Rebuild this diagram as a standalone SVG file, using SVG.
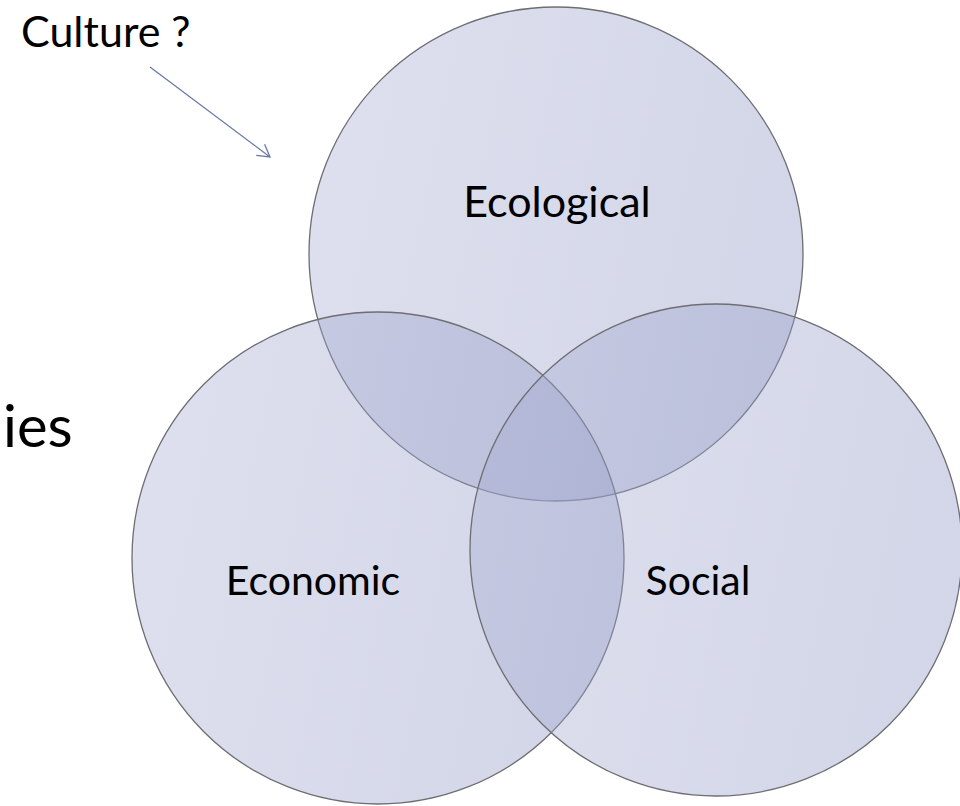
<svg xmlns="http://www.w3.org/2000/svg" width="960" height="806" viewBox="0 0 960 806">
  <style>
    .circ { fill: url(#g); fill-opacity: 0.38; stroke: #6e6e72; stroke-width: 1.3; }
    .lbl { font-family: Lato, "Open Sans", "Liberation Sans", sans-serif; font-size: 43px; fill: #000; }
  </style>
  <defs>
    <linearGradient id="g" x1="0" y1="0" x2="1" y2="0.2">
      <stop offset="0" stop-color="#a8aed3"/>
      <stop offset="1" stop-color="#8c94c2"/>
    </linearGradient>
    <marker id="arr" markerWidth="20" markerHeight="20" refX="14" refY="8" orient="auto" markerUnits="userSpaceOnUse">
      <polyline points="2,1 14,8 2,15" fill="none" stroke="#6b77a8" stroke-width="1.3"/>
    </marker>
  </defs>
  <rect width="960" height="806" fill="#ffffff"/>
  <text class="lbl" x="3" y="447" style="font-size:58px">ies</text>
  <g id="ecological">
    <circle class="circ" cx="556" cy="254" r="247"/>
    <text class="lbl" x="557" y="217" text-anchor="middle">Ecological</text>
  </g>
  <g id="economic">
    <circle class="circ" cx="378" cy="558" r="246"/>
    <text class="lbl" x="313" y="595" text-anchor="middle" style="font-size:41px">Economic</text>
  </g>
  <g id="social">
    <circle class="circ" cx="716" cy="550" r="246"/>
    <text class="lbl" x="698" y="595" text-anchor="middle" style="font-size:41px">Social</text>
  </g>
  <g id="culture">
    <text class="lbl" x="21" y="47">Culture ?</text>
  </g>
  <g id="connectors">
    <line x1="150" y1="67" x2="270" y2="157" stroke="#6b77a8" stroke-width="1.3" marker-end="url(#arr)"/>
  </g>
</svg>
